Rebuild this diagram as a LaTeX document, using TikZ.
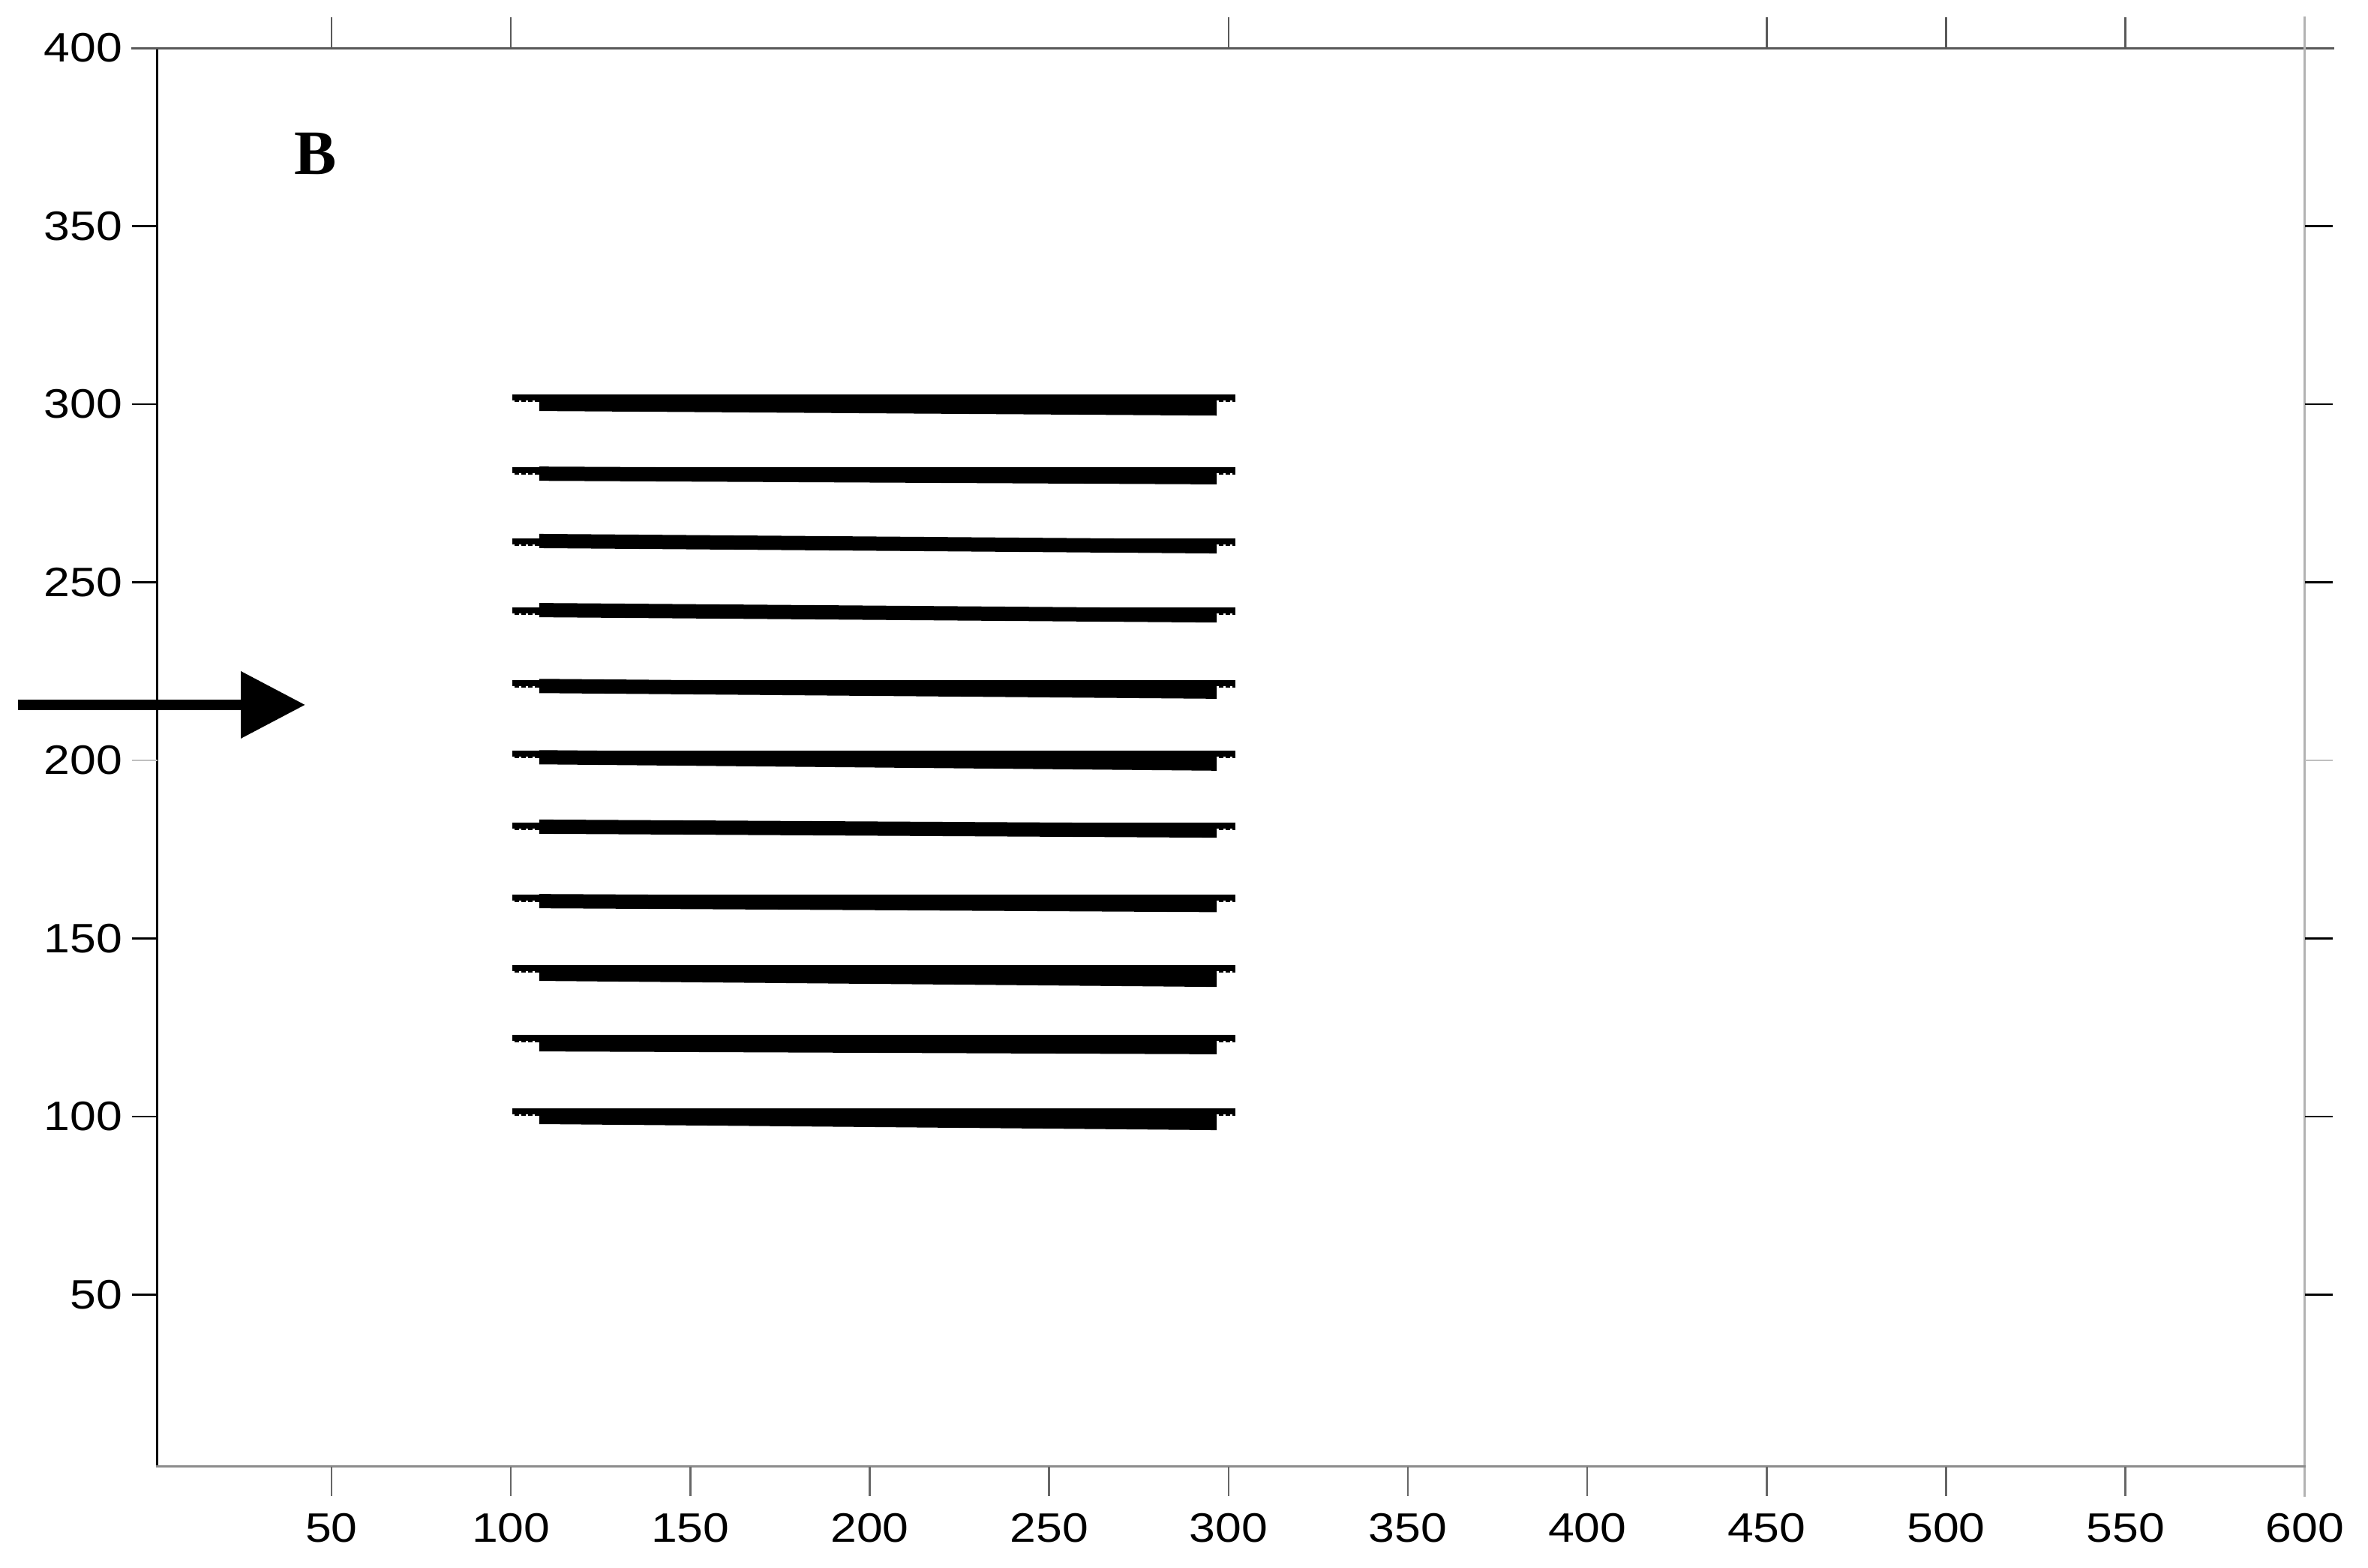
\documentclass[tikz,border=0pt]{standalone}
\usepackage{fontspec}
\setmainfont{Liberation Sans}
\newfontfamily\tickfont[FakeStretch=1.14]{Liberation Sans}
\newfontfamily\panelfont{Liberation Serif}
\usetikzlibrary{arrows.meta}

\begin{document}
\begin{tikzpicture}[
        x=0.047836cm, y=0.0475cm,
        every node/.style = {inner sep=0pt, outer sep=0pt},
        ticklabel/.style = {font=\tickfont\fontsize{15.6}{17}\selectfont},
        axisline/.style = {line width=0.03cm, line cap=rect},
        tickmark/.style = {line width=0.025cm},
        plate/.style = {fill=black},
        platedots/.style = {white, line width=0.02cm, dash pattern=on 0.025cm off 0.065cm}
    ]
    \useasboundingbox (-42.4,-26.7) rectangle (617.6,413.5);

    % frame of the plot
    \draw[axisline, black] (1.5,1.7) -- (1.5,400);
    \draw[axisline, black!65] (-5.6,400) -- (607.8,400);
    \draw[axisline, black!30] (600,-6.5) -- (600,408.6);
    \draw[axisline, black!45] (1.5,1.7) -- (600,1.7);

    % ticks
    \foreach \y in {50,100,150,250,300,350}
        \draw[tickmark] (-5.6,\y) -- (1.5,\y);
    \draw[tickmark, black!25] (-5.6,200) -- (1.5,200);
    \foreach \y in {50,100,150,250,300,350}
        \draw[tickmark] (600,\y) -- (607.8,\y);
    \draw[tickmark, black!25] (600,200) -- (607.8,200);
    \foreach \x in {50,100,300,450,500,550}
        \draw[tickmark, black!65] (\x,400) -- (\x,408.6);
    \foreach \x in {50,100,...,550}
        \draw[tickmark, black!60] (\x,1.7) -- (\x,-6.5);

    % tick labels
    \foreach \x in {50,100,...,600}
        \node[ticklabel] (xl\x) at (\x,-15.4) {\x};
    \foreach \y in {50,100,...,400}
        \node[ticklabel, anchor=east] (yl\y) at (-8.3,\y) {\y};

    % plates
    \foreach \t/\lt/\lb/\rb in {302.7/302.5/298.1/296.8, 282.3/282.5/278.5/277.5,
            262.3/263.6/259.6/258.1, 242.9/244.2/240.2/238.7, 222.5/222.9/218.9/217.3,
            202.7/202.9/198.9/197.1, 182.5/183.4/179.4/178.3, 162.3/162.5/158.5/157.4,
            142.5/142.5/138.1/136.4, 122.9/122.9/118.3/117.5, 102.3/102.3/97.9/96.2}{
        \fill[plate] (107.9,\lt) -- (296.7,{\rb+\lt-\lb}) -- (296.7,\rb) -- (107.9,\lb) -- cycle;
        \fill[plate] (100.4,\t) rectangle (301.9,{\t-2.1});
        \draw[platedots] (100.4,{\t-1.9}) -- (107.9,{\t-1.9});
        \draw[platedots] (296.7,{\t-1.9}) -- (301.9,{\t-1.9});
    }

    % incoming flow
    \coordinate (flowtail) at (-37.3,215.6);
    \coordinate (flowtip) at (42.7,215.6);
    \draw[line width=0.14cm, -{Triangle[length=0.86cm, width=0.86cm]}] (flowtail) -- (flowtip);

    \node[font=\panelfont\bfseries\fontsize{24}{26}\selectfont] (panel) at (45.6,370.3) {B};

\end{tikzpicture}
\end{document}
